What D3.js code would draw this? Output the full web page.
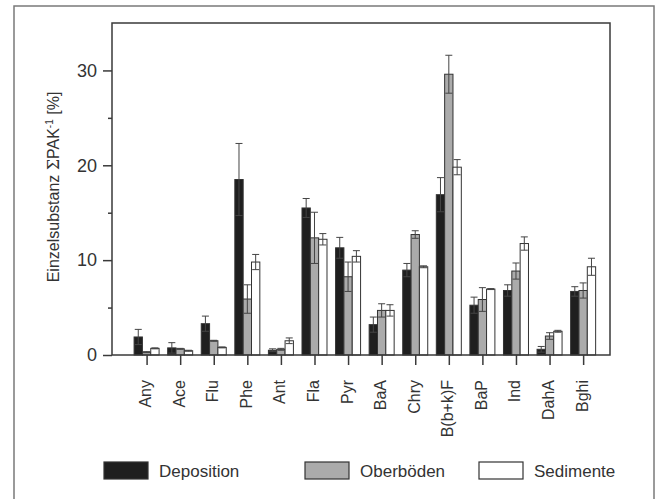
<!DOCTYPE html>
<html>
<head>
<meta charset="utf-8">
<script src="https://cdnjs.cloudflare.com/ajax/libs/d3/7.8.5/d3.min.js"></script>
<style>
  body { margin: 0; background: #fff; }
  svg { font-family: "Liberation Sans", Arial, sans-serif; }
</style>
</head>
<body>
<div class="chart"></div>
<script>
var categories = ["Any", "Ace", "Flu", "Phe", "Ant", "Fla", "Pyr", "BaA", "Chry", "B(b+k)F", "BaP", "Ind", "DahA", "Bghi"];
var seriesNames = ["Deposition", "Oberböden", "Sedimente"];

var deposition    = [1.9, 0.75, 3.3, 18.5, 0.5, 15.5, 11.3, 3.2, 8.95, 16.9, 5.25, 6.8, 0.6, 6.7];
var depositionErr = [0.8, 0.55, 0.8, 3.8, 0.15, 1.0, 1.1, 0.8, 0.7, 1.8, 0.85, 0.6, 0.3, 0.5];
var oberboeden    = [0.3, 0.65, 1.5, 5.9, 0.6, 12.35, 8.25, 4.7, 12.7, 29.6, 5.85, 8.85, 2.0, 6.8];
var oberboedenErr = [0.05, 0.05, 0.05, 1.5, 0.1, 2.7, 1.55, 0.7, 0.4, 2.0, 1.25, 0.85, 0.35, 0.8];
var sedimente     = [0.7, 0.45, 0.8, 9.8, 1.5, 12.2, 10.4, 4.7, 9.3, 19.8, 6.95, 11.75, 2.5, 9.3];
var sedimenteErr  = [0.05, 0.05, 0.05, 0.8, 0.3, 0.6, 0.6, 0.6, 0.1, 0.8, 0.05, 0.7, 0.1, 0.9];

var majorTicks = [0, 10, 20, 30];
var minorTicks = [5, 15, 25];

var values = [deposition, oberboeden, sedimente];
var errors = [depositionErr, oberboedenErr, sedimenteErr];
var fills = ["#1f1f1f", "#ababab", "#ffffff"];

var width = 657,
    height = 499;

var svg = d3.select(".chart")
            .append("svg")
            .attr("width", width)
            .attr("height", height);

// outer frame, runs off the bottom of the picture
svg.append("rect")
   .attr("x", 14).attr("y", 6)
   .attr("width", 640).attr("height", 520)
   .attr("fill", "none")
   .attr("stroke", "#7a7a7a")
   .attr("stroke-width", 1.5);

// plot box (not "top": that name is taken by window.top)
var plotLeft = 112, plotRight = 610, plotTop = 23, plotBottom = 355;

var x = d3.scaleLinear()
          .domain([-1.03, 13.8])
          .range([plotLeft, plotRight]);

var y = d3.scaleLinear()
          .domain([0, 35])
          .range([plotBottom, plotTop]);

var inner = d3.scaleBand()
              .domain(d3.range(seriesNames.length))
              .range([-12.5, 12.5])
              .padding(0);

// bars
for (var s = 0; s < seriesNames.length; s++) {
  svg.append("g")
     .selectAll("rect")
     .data(values[s])
     .enter()
       .append("rect")
       .attr("x", function(d, i) { return x(i) + inner(s); })
       .attr("width", inner.bandwidth())
       .attr("y", function(d) { return y(d); })
       .attr("height", function(d) { return y(0) - y(d); })
       .attr("fill", fills[s])
       .attr("stroke", "#333")
       .attr("stroke-width", 1);
}

// error bars, symmetric with caps at both ends
for (var s = 0; s < seriesNames.length; s++) {
  var vals = values[s], errs = errors[s];
  var g = svg.append("g")
             .attr("stroke", "#444")
             .attr("stroke-width", 1)
             .attr("fill", "none");
  vals.forEach(function(v, i) {
    var lo = Math.max(0, v - errs[i]), hi = v + errs[i];
    var c = x(i) + inner(s) + inner.bandwidth() / 2;
    g.append("line").attr("x1", c).attr("x2", c).attr("y1", y(lo)).attr("y2", y(hi));
    g.append("line").attr("x1", c - 3.5).attr("x2", c + 3.5).attr("y1", y(hi)).attr("y2", y(hi));
    g.append("line").attr("x1", c - 3.5).attr("x2", c + 3.5).attr("y1", y(lo)).attr("y2", y(lo));
  });
}

// plot frame
svg.append("rect")
   .attr("x", plotLeft).attr("y", plotTop)
   .attr("width", plotRight - plotLeft).attr("height", plotBottom - plotTop)
   .attr("fill", "none")
   .attr("stroke", "#3a3a3a")
   .attr("stroke-width", 1.5);

var yAxis = d3.axisLeft(y).tickValues(majorTicks).tickSize(9).tickPadding(6);
var yMinor = d3.axisLeft(y).tickValues(minorTicks).tickSize(4).tickFormat("");

var gy = svg.append("g")
            .attr("transform", "translate(" + plotLeft + ",0)")
            .call(yAxis)
            .attr("font-family", null);
svg.append("g")
   .attr("transform", "translate(" + plotLeft + ",0)")
   .call(yMinor)
   .select(".domain").remove();
gy.select(".domain").remove();
gy.selectAll("text").attr("font-size", 18).attr("fill", "#333");
svg.selectAll(".tick line").attr("stroke", "#3a3a3a").attr("stroke-width", 1.5);

var xAxis = d3.axisBottom(x)
              .tickValues(d3.range(categories.length))
              .tickSize(10)
              .tickFormat(function(i) { return categories[i]; });

var gx = svg.append("g")
            .attr("transform", "translate(0," + plotBottom + ")")
            .call(xAxis)
            .attr("font-family", null);
gx.select(".domain").remove();
gx.selectAll(".tick line").attr("stroke", "#3a3a3a").attr("stroke-width", 1.5);
gx.selectAll("text")
  .attr("x", 0).attr("y", 0).attr("dy", null)
  .attr("transform", "translate(4,25) rotate(-90)")
  .attr("text-anchor", "end")
  .attr("font-size", 16)
  .attr("fill", "#333");

// y label
var ylab = svg.append("text")
              .attr("transform", "translate(59,187) rotate(-90)")
              .attr("text-anchor", "middle")
              .attr("font-size", 16)
              .attr("fill", "#333");
ylab.append("tspan").text("Einzelsubstanz ");
ylab.append("tspan").attr("font-family", "DejaVu Serif, serif").text("Σ");
ylab.append("tspan").text("PAK");
ylab.append("tspan").attr("font-size", 10).attr("dy", -6).text("-1");
ylab.append("tspan").attr("dy", 6).text(" [%]");

// legend
var legendX = [104, 305, 479];
var legend = svg.append("g")
                .selectAll("g")
                .data(seriesNames)
                .enter()
                  .append("g")
                  .attr("transform", function(d, i) { return "translate(" + legendX[i] + ",462)"; });
legend.append("rect")
      .attr("width", 44).attr("height", 17)
      .attr("fill", function(d, i) { return fills[i]; })
      .attr("stroke", "#333")
      .attr("stroke-width", 1.2);
legend.append("text")
      .attr("x", 55).attr("y", 14.5)
      .attr("font-size", 17)
      .attr("fill", "#333")
      .text(function(d) { return d; });
</script>
</body>
</html>
